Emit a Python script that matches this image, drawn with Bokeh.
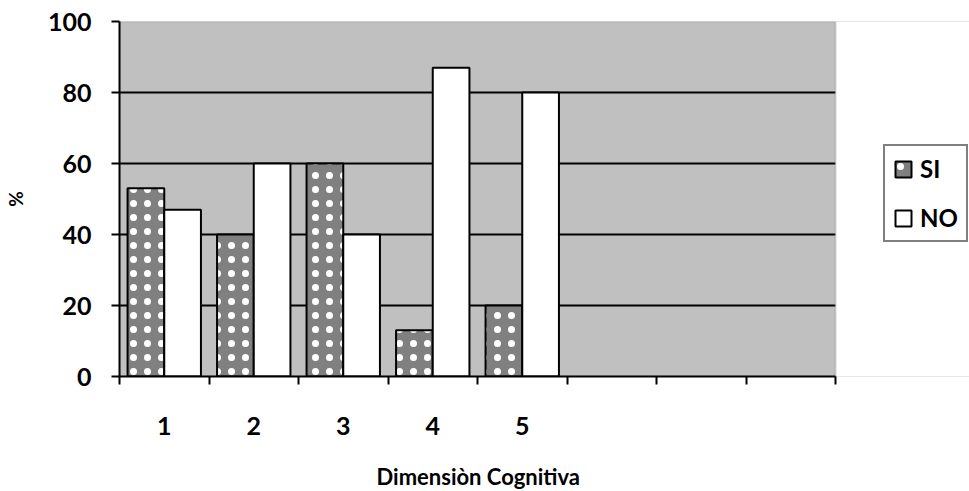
from bokeh.plotting import figure
from bokeh.models import (ColumnDataSource, Range1d, FixedTicker, Legend, LegendItem,
                          BoxAnnotation, Title)
from bokeh.transform import dodge
from bokeh.embed import file_html
from bokeh.resources import INLINE

categories = ["1", "2", "3", "4", "5"]
n_slots = 8
si_values = [53, 40, 60, 13, 20]
no_values = [47, 60, 40, 87, 80]
y_ticks = [0, 20, 40, 60, 80, 100]

FONT = "Lato"
W, H = 969, 491
LEFT, TOP, BOTTOM = 119, 21, 113
PLOT_RIGHT = 835          # right edge of the category area, in figure pixels
x_end = n_slots * (W - LEFT) / (PLOT_RIGHT - LEFT)

x_pos = [i + 0.5 for i in range(len(categories))]
src = ColumnDataSource(dict(x=x_pos, si=si_values, no=no_values))

p = figure(width=W, height=H, output_backend="svg", toolbar_location=None,
           x_range=Range1d(0, x_end), y_range=Range1d(0, 100),
           min_border_left=LEFT, min_border_right=0, min_border_top=TOP, min_border_bottom=BOTTOM)
p.background_fill_color = "#C0C0C0"
p.border_fill_color = "white"
p.outline_line_color = None

# grid
p.xgrid.visible = False
p.ygrid.ticker = FixedTicker(ticks=y_ticks[1:-1])
p.ygrid.grid_line_color = "black"
p.ygrid.grid_line_width = 2

# white area right of the category area (legend zone)
p.add_layout(BoxAnnotation(left=n_slots, fill_color="white", fill_alpha=1,
                           line_color=None, level="glyph"))
# gray border of the category area (top and right)
p.add_layout(BoxAnnotation(left=0, right=n_slots, bottom=0, top=100, fill_alpha=0,
                           line_color="#808080", line_width=2, level="glyph"))

bw = 0.41
r_si = p.vbar(x=dodge("x", -bw / 2, range=p.x_range), top="si", width=bw, bottom=0, source=src,
              fill_color="#808080", line_color="black", line_width=2,
              hatch_pattern=".", hatch_color="white", hatch_scale=14, hatch_weight=0.1)
r_no = p.vbar(x=dodge("x", bw / 2, range=p.x_range), top="no", width=bw, bottom=0, source=src,
              fill_color="white", line_color="black", line_width=2)

# y axis
ya = p.yaxis[0]
ya.ticker = FixedTicker(ticks=y_ticks, minor_ticks=[])
ya.axis_line_width = 2
ya.major_tick_line_width = 2
ya.major_tick_out = 8
ya.major_tick_in = 0
ya.major_label_text_font = FONT
ya.major_label_text_font_style = "bold"
ya.major_label_text_font_size = "25px"
ya.major_label_text_color = "black"
ya.major_label_standoff = 20
ya.axis_label = "%"
ya.axis_label_text_font = FONT
ya.axis_label_text_font_style = "bold"
ya.axis_label_text_font_size = "19px"
ya.axis_label_text_color = "black"
ya.axis_label_standoff = 18

# x axis: labels at slot centres, ticks at slot boundaries
xa = p.xaxis[0]
xa.bounds = (0, n_slots)
xa.ticker = FixedTicker(ticks=x_pos, minor_ticks=list(range(n_slots + 1)))
xa.major_label_overrides = {x: c for x, c in zip(x_pos, categories)}
xa.axis_line_width = 2
xa.major_tick_line_color = None
xa.major_tick_out = 0
xa.major_tick_in = 0
xa.minor_tick_line_color = "black"
xa.minor_tick_line_width = 2
xa.minor_tick_out = 8
xa.minor_tick_in = 0
xa.major_label_text_font = FONT
xa.major_label_text_font_style = "bold"
xa.major_label_text_font_size = "25px"
xa.major_label_text_color = "black"
xa.major_label_standoff = 32
# blank axis label only reserves vertical space above the title
xa.axis_label = " "
xa.axis_label_text_font_size = "14px"
xa.axis_label_standoff = 2

# x-axis title, centred under the category area (text about 202px wide)
TITLE_W = 202
x_title = Title(text="Dimensiòn Cognitiva", align="left",
                offset=(PLOT_RIGHT - LEFT) / 2 - TITLE_W / 2,
                text_font=FONT, text_font_style="bold", text_font_size="22px",
                text_color="black", standoff=4)
p.add_layout(x_title, "below")

legend = Legend(items=[LegendItem(label="SI", renderers=[r_si]),
                       LegendItem(label="NO", renderers=[r_no])],
                location=(PLOT_RIGHT - LEFT + 48, 134))
legend.border_line_color = "black"
legend.border_line_width = 2
legend.background_fill_color = "white"
legend.background_fill_alpha = 1
legend.label_text_font = FONT
legend.label_text_font_style = "bold"
legend.label_text_font_size = "24px"
legend.label_text_color = "black"
legend.glyph_width = 20
legend.glyph_height = 20
legend.label_standoff = 7
legend.padding = 8
legend.spacing = 20
legend.margin = 0
p.add_layout(legend, "center")

open("out.html", "w").write(file_html(p, INLINE))
